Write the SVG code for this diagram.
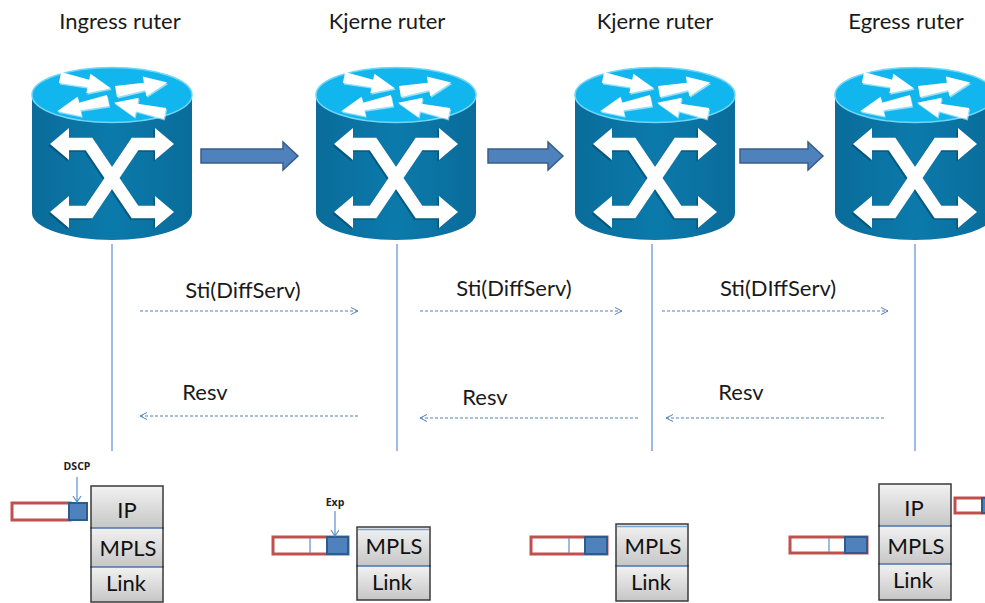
<svg xmlns="http://www.w3.org/2000/svg" xmlns:xlink="http://www.w3.org/1999/xlink" width="985" height="603" viewBox="0 0 985 603">
  <style>
    .title { font-family: Lato, "Open Sans", "Liberation Sans", sans-serif; font-size: 22px; fill: #1a1a1a; text-anchor: middle; }
    .lbl { font-family: Lato, "Open Sans", "Liberation Sans", sans-serif; font-size: 22px; fill: #1a1a1a; text-anchor: middle; }
    .cell { font-family: Lato, "Open Sans", "Liberation Sans", sans-serif; font-size: 22px; fill: #111; text-anchor: middle; }
    .tag { font-family: "Open Sans", "Liberation Sans", sans-serif; font-size: 10.5px; font-weight: bold; fill: #222; text-anchor: middle; }
    .vline { stroke: #5b8fd0; stroke-width: 1.2; fill: none; }
    .dash { stroke: #4f81bd; stroke-width: 1; stroke-dasharray: 3 2; fill: none; }
    .block { fill: #4f81bd; stroke: #385d8a; stroke-width: 1.5; }
    .stack { fill: url(#cellGrad); stroke: #3a3a3a; stroke-width: 1.5; }
    .divider { stroke: #7ba3d4; stroke-width: 1.5; }
    .pkt { fill: #ffffff; stroke: #c0504d; stroke-width: 3; }
    .field { fill: #4f81bd; stroke: #2f5a8c; stroke-width: 2; }
    .sep { stroke: #5b8fd0; stroke-width: 1.2; }
    .pointer { stroke: #5b8fd0; stroke-width: 1.2; fill: none; }
  </style>
  <defs>
    <linearGradient id="bodyGrad" x1="0" y1="0" x2="1" y2="0">
      <stop offset="0" stop-color="#0a6c9a"/>
      <stop offset="0.5" stop-color="#0b7aab"/>
      <stop offset="1" stop-color="#0a6c9a"/>
    </linearGradient>
    <linearGradient id="cellGrad" x1="0" y1="0" x2="0" y2="1">
      <stop offset="0" stop-color="#f2f2f2"/>
      <stop offset="1" stop-color="#c6c6c6"/>
    </linearGradient>
    <marker id="chev" markerWidth="10" markerHeight="10" refX="8" refY="4" orient="auto" markerUnits="userSpaceOnUse">
      <path d="M1,0.5 L8,4 L1,7.5" fill="none" stroke="#4f81bd" stroke-width="1"/>
    </marker>
    <!-- flat arrow used on the router's top face, tail wider than the neck -->
    <path id="faceArrow" d="M0,-5.5 L29,-3.8 L29,-10 L52,0 L29,10 L29,3.8 L0,5.5 Z" fill="#ffffff"/>
    <!-- router icon, centred on x = 0 -->
    <g id="router">
      <path d="M-80,95 L-80,213 A80,27 0 0 0 80,213 L80,95 Z" fill="url(#bodyGrad)"/>
      <ellipse cx="0" cy="95" rx="80" ry="27.5" fill="#12b6ef" stroke="#6fd6f7" stroke-width="1.5"/>
      <g fill="#0a5d85" opacity="0.55">
        <use xlink:href="#faceArrow" transform="translate(-51,79) rotate(12)"/>
        <use xlink:href="#faceArrow" transform="translate(5,93) rotate(-10)"/>
        <use xlink:href="#faceArrow" transform="translate(-3,102) rotate(168)"/>
        <use xlink:href="#faceArrow" transform="translate(54,115) rotate(192)"/>
      </g>
      <use xlink:href="#faceArrow" transform="translate(-52,77.5) rotate(12)"/>
      <use xlink:href="#faceArrow" transform="translate(4,91.5) rotate(-10)"/>
      <use xlink:href="#faceArrow" transform="translate(-4,100.5) rotate(168)"/>
      <use xlink:href="#faceArrow" transform="translate(53,113.5) rotate(192)"/>
      <!-- crossing arrows on the body -->
      <g transform="translate(-1.5,1.5)" opacity="0.45">
        <path d="M-44,144 L-23,144 L23,212 L44,212 M44,144 L23,144 L-23,212 L-44,212" fill="none" stroke="#03364f" stroke-width="12.5" stroke-linejoin="miter"/>
        <path d="M-62,144 L-43,128 L-43,160 Z M62,144 L43,128 L43,160 Z M-62,212 L-43,196 L-43,228 Z M62,212 L43,196 L43,228 Z" fill="#03364f"/>
      </g>
      <path d="M-44,144 L-23,144 L23,212 L44,212 M44,144 L23,144 L-23,212 L-44,212" fill="none" stroke="#ffffff" stroke-width="12.5" stroke-linejoin="miter"/>
      <path d="M-62,144 L-43,128 L-43,160 Z M62,144 L43,128 L43,160 Z M-62,212 L-43,196 L-43,228 Z M62,212 L43,196 L43,228 Z" fill="#ffffff"/>
    </g>
  </defs>

  <rect width="985" height="603" fill="#ffffff"/>

  <!-- routers -->
  <g id="ingress">
    <text class="title" x="120" y="29">Ingress ruter</text>
    <use xlink:href="#router" x="112" y="0"/>
  </g>
  <g id="core1">
    <text class="title" x="387" y="29">Kjerne ruter</text>
    <use xlink:href="#router" x="396" y="0"/>
  </g>
  <g id="core2">
    <text class="title" x="655" y="29">Kjerne ruter</text>
    <use xlink:href="#router" x="655" y="0"/>
  </g>
  <g id="egress">
    <text class="title" x="906" y="29">Egress ruter</text>
    <use xlink:href="#router" x="915" y="0"/>
  </g>

  <!-- connectors -->
  <g id="connectors">
    <path class="block" d="M201,149 H283 V142 L298,156 L283,170 V163 H201 Z"/>
    <path class="block" d="M488,149 H548 V142 L563,156 L548,170 V163 H488 Z"/>
    <path class="block" d="M740,149 H808 V142 L823,156 L808,170 V163 H740 Z"/>

    <line class="vline" x1="112" y1="244" x2="112" y2="451"/>
    <line class="vline" x1="397" y1="244" x2="397" y2="451"/>
    <line class="vline" x1="652" y1="244" x2="652" y2="451"/>
    <line class="vline" x1="915" y1="244" x2="915" y2="451"/>

    <line class="dash" x1="140" y1="311" x2="358" y2="311" marker-end="url(#chev)"/>
    <line class="dash" x1="420" y1="311" x2="622" y2="311" marker-end="url(#chev)"/>
    <line class="dash" x1="662" y1="311" x2="888" y2="311" marker-end="url(#chev)"/>
    <text class="lbl" x="243" y="298">Sti(DiffServ)</text>
    <text class="lbl" x="514" y="296">Sti(DiffServ)</text>
    <text class="lbl" x="778" y="296">Sti(DIffServ)</text>

    <line class="dash" x1="358" y1="416" x2="140" y2="416" marker-end="url(#chev)"/>
    <line class="dash" x1="638" y1="418" x2="420" y2="418" marker-end="url(#chev)"/>
    <line class="dash" x1="884" y1="418" x2="666" y2="418" marker-end="url(#chev)"/>
    <text class="lbl" x="205" y="400">Resv</text>
    <text class="lbl" x="485" y="405">Resv</text>
    <text class="lbl" x="741" y="400">Resv</text>
  </g>

  <!-- protocol stacks and packets -->
  <g id="stack-ingress">
    <rect class="stack" x="91" y="486" width="72" height="42"/>
    <rect class="stack" x="91" y="528" width="72" height="39"/>
    <rect class="stack" x="91" y="567" width="72" height="35"/>
    <line class="divider" x1="92" y1="528" x2="162" y2="528"/>
    <line class="divider" x1="92" y1="567" x2="162" y2="567"/>
    <text class="cell" x="127" y="518">IP</text>
    <text class="cell" x="128" y="556">MPLS</text>
    <text class="cell" x="126" y="591">Link</text>
    <rect class="pkt" x="12" y="503" width="58" height="17"/>
    <rect class="field" x="69" y="503" width="18" height="17"/>
    <text class="tag" x="77" y="470">DSCP</text>
    <path class="pointer" d="M77,477 V502 M73,496 L77,502 L81,496"/>
  </g>

  <g id="stack-core1">
    <rect class="stack" x="357" y="527" width="73" height="39"/>
    <rect class="stack" x="357" y="566" width="73" height="34"/>
    <line class="divider" x1="358" y1="529.5" x2="429" y2="529.5"/>
    <line class="divider" x1="358" y1="566" x2="429" y2="566"/>
    <text class="cell" x="394" y="554">MPLS</text>
    <text class="cell" x="392" y="590">Link</text>
    <rect class="pkt" x="273" y="537" width="75" height="17"/>
    <line class="sep" x1="310" y1="538" x2="310" y2="553"/>
    <rect class="field" x="327" y="537" width="21" height="17"/>
    <text class="tag" x="335" y="506">Exp</text>
    <path class="pointer" d="M335,511 V536 M331,530 L335,536 L339,530"/>
  </g>

  <g id="stack-core2">
    <rect class="stack" x="616" y="524" width="72" height="42"/>
    <rect class="stack" x="616" y="566" width="72" height="35"/>
    <line class="divider" x1="617" y1="526.5" x2="687" y2="526.5"/>
    <line class="divider" x1="617" y1="566" x2="687" y2="566"/>
    <text class="cell" x="653" y="554">MPLS</text>
    <text class="cell" x="651" y="590">Link</text>
    <rect class="pkt" x="531" y="537" width="76" height="17"/>
    <line class="sep" x1="569" y1="538" x2="569" y2="553"/>
    <rect class="field" x="585" y="537" width="22" height="17"/>
  </g>

  <g id="stack-egress">
    <rect class="stack" x="879" y="484" width="72" height="42"/>
    <rect class="stack" x="879" y="526" width="72" height="38"/>
    <rect class="stack" x="879" y="564" width="72" height="36"/>
    <line class="divider" x1="880" y1="526" x2="950" y2="526"/>
    <line class="divider" x1="880" y1="564" x2="950" y2="564"/>
    <text class="cell" x="914" y="516">IP</text>
    <text class="cell" x="916" y="554">MPLS</text>
    <text class="cell" x="913" y="588">Link</text>
    <rect class="pkt" x="790" y="537" width="77" height="16"/>
    <line class="sep" x1="829" y1="538" x2="829" y2="552"/>
    <rect class="field" x="845" y="537" width="22" height="16"/>
    <rect class="pkt" x="955" y="498" width="40" height="15"/>
    <rect class="field" x="982" y="498" width="14" height="15"/>
  </g>
</svg>
